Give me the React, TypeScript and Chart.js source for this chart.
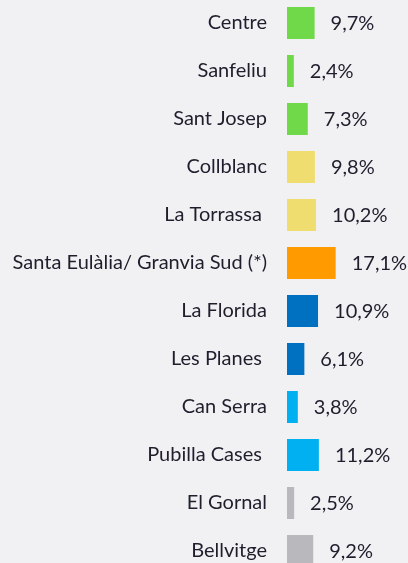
import React, { useEffect, useRef } from "react";
import { Chart, registerables } from "chart.js";

Chart.register(...registerables);

const categories = [
  "Centre",
  "Sanfeliu",
  "Sant Josep",
  "Collblanc",
  "La Torrassa ",
  "Santa Eulàlia/ Granvia Sud (*)",
  "La Florida",
  "Les Planes ",
  "Can Serra",
  "Pubilla Cases ",
  "El Gornal",
  "Bellvitge",
];

const values = [9.7, 2.4, 7.3, 9.8, 10.2, 17.1, 10.9, 6.1, 3.8, 11.2, 2.5, 9.2];

const barColors = [
  "#6fd94a",
  "#6fd94a",
  "#6fd94a",
  "#f0dd70",
  "#f0dd70",
  "#ff9a00",
  "#0070c0",
  "#0070c0",
  "#00b0f0",
  "#00b0f0",
  "#b8b8bd",
  "#b8b8bd",
];

const xMax = 42.5;

const BG = "#f1f1f4";
const TEXT = "#1e1e2c";
const FONT_FAMILY = "Lato, 'Open Sans', sans-serif";
const FONT_SIZE = 20;

const formatValue = (v: number) => v.toFixed(1).replace(".", ",") + "%";

const bgPlugin = {
  id: "bgFill",
  beforeDraw(chart: any) {
    const { ctx, width, height } = chart;
    ctx.save();
    ctx.fillStyle = BG;
    ctx.fillRect(0, 0, width, height);
    ctx.restore();
  },
};

const valueLabelPlugin = {
  id: "valueLabels",
  afterDatasetsDraw(chart: any) {
    const { ctx } = chart;
    const meta = chart.getDatasetMeta(0);
    ctx.save();
    ctx.fillStyle = TEXT;
    ctx.font = `${FONT_SIZE}px ${FONT_FAMILY}`;
    ctx.textAlign = "left";
    ctx.textBaseline = "middle";
    meta.data.forEach((el: any, i: number) => {
      ctx.fillText(formatValue(values[i]), el.x + 16, el.y + 1);
    });
    ctx.restore();
  },
};

export default function App() {
  const canvasRef = useRef<HTMLCanvasElement | null>(null);

  useEffect(() => {
    document.body.style.margin = "0";
    document.body.style.background = BG;
    document.documentElement.style.overflow = "hidden";
    const canvas = canvasRef.current;
    if (!canvas) return;
    const chart = new Chart(canvas, {
      type: "bar",
      data: {
        labels: categories,
        datasets: [
          {
            data: values,
            backgroundColor: barColors,
            borderWidth: 0,
            barPercentage: 1,
            categoryPercentage: 32 / 48,
          },
        ],
      },
      options: {
        indexAxis: "y",
        responsive: false,
        animation: false,
        devicePixelRatio: 1,
        layout: { padding: 0 },
        plugins: {
          legend: { display: false },
          tooltip: { enabled: false },
          title: { display: false },
        },
        scales: {
          x: {
            display: false,
            min: 0,
            max: xMax,
            grid: { display: false },
          },
          y: {
            position: "left",
            grid: { display: false, drawTicks: false },
            border: { display: false },
            ticks: {
              color: TEXT,
              padding: 20,
              font: { family: FONT_FAMILY, size: FONT_SIZE },
            },
            afterFit: (scale: any) => {
              scale.width = 287;
              scale.paddingTop = 0;
              scale.paddingBottom = 0;
            },
          },
        },
      },
      plugins: [bgPlugin, valueLabelPlugin],
    });
    return () => chart.destroy();
  }, []);

  return (
    <div style={{ position: "fixed", left: 0, top: -1, width: 408, height: 576, background: BG }}>
      <canvas ref={canvasRef} width={408} height={576} style={{ display: "block" }} />
    </div>
  );
}
